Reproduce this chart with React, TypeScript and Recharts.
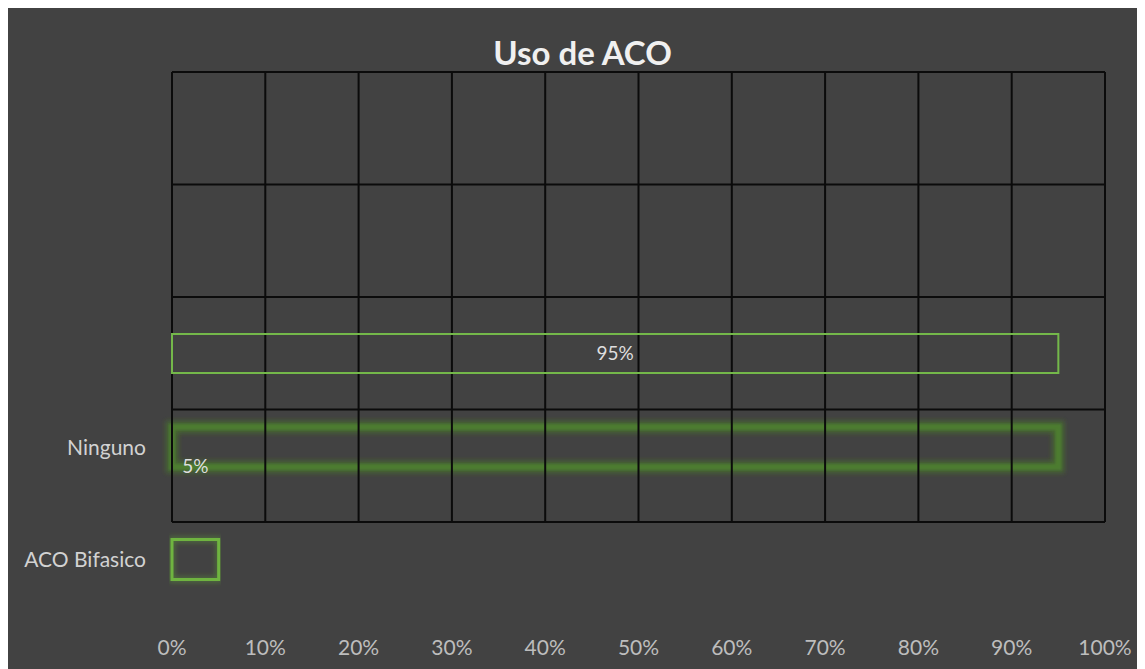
import React from 'react';
import { BarChart, Bar, XAxis, YAxis, CartesianGrid, LabelList } from 'recharts';

// Category rows, top to bottom (the two top rows are empty in the source chart)
const categories = ['', ' ', 'Ninguno', 'ACO Bifasico'];
// Share of patients per row (0..1)
const usoValues = [null, null, 0.95, 0.05];
// Percent ticks along the value axis
const xTicks = [0, 0.1, 0.2, 0.3, 0.4, 0.5, 0.6, 0.7, 0.8, 0.9, 1];
const xTickLabels = ['0%', '10%', '20%', '30%', '40%', '50%', '60%', '70%', '80%', '90%', '100%'];

// Per-row look of the bars (kept apart from the values)
const ghostStroke = [null, null, '#74b84a', null];
const glowKind = ['none', 'none', 'band', 'square'];

const W = 1137;
const H = 661;
const FONT = 'Lato, "Open Sans", sans-serif';

const data = categories.map((name, i) => ({ name, value: usoValues[i] }));

const pct = (v: any) => (v == null ? '' : `${Math.round(Number(v) * 100)}%`);

const rowOf = (props: any) => {
  const name = props.payload?.name ?? props.name;
  return categories.indexOf(name);
};

const GhostShape = (props: any) => {
  const { x, y, width, height } = props;
  const stroke = ghostStroke[rowOf(props)];
  if (!stroke || !width) return <g />;
  return <rect x={x} y={y} width={width} height={height} fill="none" stroke={stroke} strokeWidth={2} />;
};

const GlowShape = (props: any) => {
  const { x, y, width, height } = props;
  const kind = glowKind[rowOf(props)];
  if (kind === 'band') {
    return (
      <g>
        <rect x={x} y={y} width={width} height={height} fill="none" stroke="#4a7f2a" strokeWidth={12} strokeOpacity={0.6} filter="url(#acoGlow)" />
        <rect x={x} y={y} width={width} height={height} fill="none" stroke="#4f8430" strokeWidth={6} strokeOpacity={0.7} filter="url(#acoSoft)" />
      </g>
    );
  }
  if (kind === 'square') {
    return (
      <g>
        <rect x={x} y={y} width={width} height={height} fill="none" stroke="#5e9e36" strokeWidth={6} strokeOpacity={0.45} filter="url(#acoGlow)" />
        <rect x={x} y={y} width={width} height={height} fill="none" stroke="#6fb440" strokeWidth={3} />
      </g>
    );
  }
  return <g />;
};

export default function App() {
  return (
    <div style={{ position: 'relative', width: W, height: H, background: '#424242', overflow: 'hidden' }}>
      <div
        style={{
          position: 'absolute', top: 24, left: 6, width: W, textAlign: 'center',
          fontFamily: FONT, fontWeight: 700, fontSize: 33, lineHeight: '40px', color: '#f0f0f0',
        }}
      >
        Uso de ACO
      </div>

      {/* lower layer: glowing bars and axis labels */}
      <div style={{ position: 'absolute', left: 0, top: 0 }}>
        <BarChart width={W} height={H} data={data} layout="vertical" barCategoryGap={0}
          margin={{ top: 158, right: 40, bottom: 0, left: 0 }}>
          <defs>
            <filter id="acoGlow" x="-5%" y="-50%" width="110%" height="200%">
              <feGaussianBlur stdDeviation="2.4" />
            </filter>
            <filter id="acoSoft" x="-5%" y="-50%" width="110%" height="200%">
              <feGaussianBlur stdDeviation="1.2" />
            </filter>
          </defs>
          <XAxis type="number" domain={[0, 1]} ticks={xTicks} interval={0} height={53}
            axisLine={false} tickLine={false} tickSize={0} tickMargin={24}
            tickFormatter={(v: number) => xTickLabels[xTicks.indexOf(v)] ?? ''}
            tick={{ fill: '#bdbdbd', fontSize: 21, fontFamily: FONT }} />
          <YAxis type="category" dataKey="name" width={164}
            axisLine={false} tickLine={false} tickSize={0} tickMargin={26}
            tick={{ fill: '#d2d2d2', fontSize: 21, fontFamily: FONT }} />
          <Bar dataKey="value" barSize={40} shape={GlowShape} isAnimationActive={false} />
        </BarChart>
      </div>

      {/* upper layer: grid, thin outline and data labels */}
      <div style={{ position: 'absolute', left: 0, top: 0 }}>
        <BarChart width={W} height={H} data={data} layout="vertical" barCategoryGap={0}
          margin={{ top: 64, right: 40, bottom: 147, left: 164 }}>
          <XAxis type="number" domain={[0, 1]} ticks={xTicks} hide />
          <YAxis type="category" dataKey="name" hide />
          <CartesianGrid stroke="#0b0b0b" strokeWidth={2}
            verticalCoordinatesGenerator={({ offset }: any) => xTicks.map(t => offset.left + t * offset.width)}
            horizontalCoordinatesGenerator={({ offset }: any) =>
              [...categories, ''].map((_, i) => offset.top + (i * offset.height) / categories.length)} />
          <Bar dataKey="value" barSize={39} shape={GhostShape} isAnimationActive={false}>
            <LabelList dataKey="value" position="center" formatter={pct}
              style={{ fill: '#dedede', fontSize: 19, fontFamily: FONT }} />
          </Bar>
        </BarChart>
      </div>
    </div>
  );
}
